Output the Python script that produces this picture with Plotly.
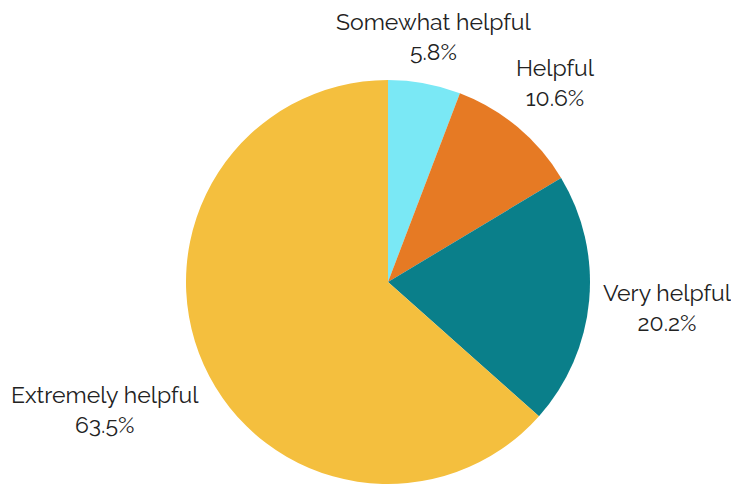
import math
import plotly.graph_objects as go

# Survey responses: how helpful respondents found the resource
labels = ["Somewhat helpful", "Helpful", "Very helpful", "Extremely helpful"]
shares = [5.8, 10.6, 20.2, 63.5]
colors = ["#7ae8f5", "#e67a24", "#0a7f8a", "#f4bf3e"]

W, H = 731, 485
CX, CY, R = 388, 282, 202      # pie centre and radius in pixels
GAP = 10                       # space between pie edge and the label box
TOP_PAD = 6                    # keep labels this far below the top edge
FONT_SIZE = 23
CHAR_W = 0.48 * FONT_SIZE      # rough average glyph width
HALF_H = 31                    # half height of a two-line label
FONT = dict(family="Raleway, Lato, sans-serif", size=FONT_SIZE, color="#222222")

# Pie domain in paper coordinates, sized so the radius is R
dom_x = [(CX - 250) / W, (CX + 250) / W]
dom_y = [1 - (CY + R) / H, 1 - (CY - R) / H]

fig = go.Figure(
    go.Pie(
        labels=labels,
        values=shares,
        sort=False,
        direction="clockwise",
        rotation=0,
        marker=dict(colors=colors, line=dict(width=0)),
        textinfo="none",
        showlegend=False,
        domain=dict(x=dom_x, y=dom_y),
        hoverinfo="label+value",
    )
)

# Outside labels centred on each slice's mid-angle, pushed out far enough
# that the label box clears the pie edge, but kept inside the page
total = sum(shares)
cum = 0.0
for lab, val in zip(labels, shares):
    mid = (cum + val / 2) / total * 2 * math.pi
    cum += val
    s, c = math.sin(mid), math.cos(mid)
    half_w = max(len(lab), len(f"{val}%")) * CHAR_W / 2
    dist = R + GAP + half_w * abs(s) + HALF_H * abs(c)
    if c > 0:
        dist = min(dist, (CY - HALF_H - TOP_PAD) / c)
    px = CX + dist * s
    py = CY - dist * c
    fig.add_annotation(
        x=px / W, y=1 - py / H, xref="paper", yref="paper",
        text=f"{lab}<br>{val}%", showarrow=False,
        xanchor="center", yanchor="middle", align="center",
        font=FONT,
    )

fig.update_layout(
    width=W,
    height=H,
    margin=dict(l=0, r=0, t=0, b=0),
    paper_bgcolor="white",
    plot_bgcolor="white",
)

fig.write_html("out.html")
